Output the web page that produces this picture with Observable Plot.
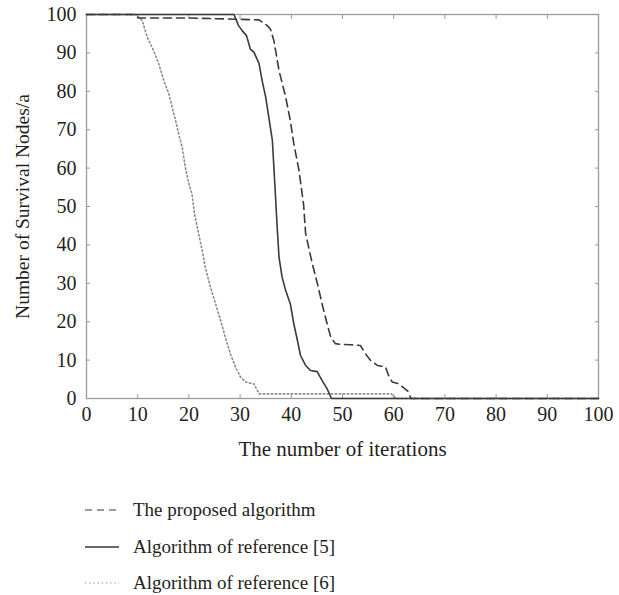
<!DOCTYPE html>
<html>
<head>
<meta charset="utf-8">
<script src="https://cdn.jsdelivr.net/npm/d3@7"></script>
<script src="https://cdn.jsdelivr.net/npm/@observablehq/plot@0.6"></script>
<style>
  html, body { margin: 0; padding: 0; background: #fff; }
  #wrap { position: relative; width: 619px; height: 595px; font-family: "Liberation Serif", "DejaVu Serif", serif; color: #231f20; }
  #legend { position: absolute; left: 0; top: 0; width: 619px; }
  .row { position: absolute; left: 84px; height: 24px; display: flex; align-items: center; font-size: 19px; }
  .row svg { width: 36px; height: 10px; margin-right: 13px; }
</style>
</head>
<body>
<div id="wrap"><div id="chart"></div><div id="legend"></div></div>
<script>
// Series names
const seriesNames = ["The proposed algorithm", "Algorithm of reference [5]", "Algorithm of reference [6]"];
// Tick values
const xTicks = [0, 10, 20, 30, 40, 50, 60, 70, 80, 90, 100];
const yTicks = [0, 10, 20, 30, 40, 50, 60, 70, 80, 90, 100];

// The proposed algorithm (dashed)
const proposedX = [0, 9.2, 10.2, 20, 33.7, 35.3, 35.9, 36.6, 37.6, 38.9, 39.8, 40.5, 41.5, 42.4, 42.8, 44.1, 45.1, 46.0, 47.0, 47.7, 48.6, 49.6, 51.6, 53.5, 54.5, 55.5, 56.8, 58.4, 59.0, 59.7, 61.0, 62.7, 63.4, 100];
const proposedY = [100, 100, 99.1, 99.1, 98.6, 97.1, 96.3, 93.2, 85.4, 78.5, 72.4, 66.3, 59.4, 50.5, 42.9, 35.1, 29.9, 24.7, 19.4, 16.0, 14.3, 14.1, 14.0, 13.8, 11.6, 9.9, 8.6, 8.2, 6.0, 4.3, 3.8, 2.0, 0, 0];

// Algorithm of reference [5] (solid)
const ref5X = [0, 28.8, 29.7, 30.4, 31.25, 32.0, 32.7, 33.7, 34.3, 35.0, 35.6, 36.3, 36.6, 36.9, 37.2, 37.6, 38.2, 38.9, 39.8, 40.5, 41.2, 41.8, 42.8, 43.75, 45.05, 46.0, 47.0, 47.85, 100];
const ref5Y = [100, 100, 97.1, 95.8, 94.5, 91, 90.2, 87.2, 82.8, 78.5, 73.3, 67.2, 60.2, 53.0, 45.5, 36.8, 31.6, 28.1, 24.7, 19.4, 15.1, 11.2, 8.6, 7.3, 7.0, 4.7, 2.5, 0, 0];

// Algorithm of reference [6] (dotted)
const ref6X = [0, 9.5, 10.9, 11.85, 13.1, 14.1, 15.1, 16.1, 16.7, 17.4, 18.0, 18.7, 19.3, 20.0, 20.6, 21.1, 21.9, 22.6, 23.2, 24.2, 25.2, 26.2, 27.1, 28.1, 29.1, 30.1, 31.1, 32.7, 33.7, 59.5, 60.5, 100];
const ref6Y = [100, 100, 98.4, 94.1, 90.6, 87.2, 82.8, 79.3, 75.9, 72.4, 68.9, 65.4, 60.2, 55.9, 53.3, 48.0, 42.9, 38.5, 34.2, 29.0, 24.7, 20.3, 16.0, 11.6, 8.2, 5.5, 4.3, 3.8, 1.2, 1.2, 0, 0];

const toRows = (xs, ys) => xs.map((x, i) => ({x, y: ys[i]}));
const proposed = toRows(proposedX, proposedY);
const ref5 = toRows(ref5X, ref5Y);
const ref6 = toRows(ref6X, ref6Y);

const styles = [
  {stroke: "#3a3a3a", strokeWidth: 1.6, strokeDasharray: "8,5"},
  {stroke: "#3a3a3a", strokeWidth: 1.6},
  {stroke: "#8a8a8a", strokeWidth: 1.6, strokeDasharray: "1.4,2.6"}
];

const axisColor = "#9a9a9a";
const textColor = "#231f20";

const chart = Plot.plot({
  width: 619,
  height: 470,
  marginTop: 14,
  marginLeft: 86,
  marginRight: 21,
  marginBottom: 72,
  style: {fontFamily: "Liberation Serif", fontSize: "20px", color: textColor, background: "white"},
  x: {domain: [0, 100]},
  y: {domain: [0, 100]},
  marks: [
    Plot.frame({stroke: axisColor, strokeWidth: 1.3}),
    // inward tick marks on all four sides
    Plot.axisX(xTicks, {anchor: "bottom", tickSize: -4, text: null, stroke: axisColor, label: null}),
    Plot.axisX(xTicks, {anchor: "top", tickSize: -4, text: null, stroke: axisColor, label: null}),
    Plot.axisY(yTicks, {anchor: "left", tickSize: -4, text: null, stroke: axisColor, label: null}),
    Plot.axisY(yTicks, {anchor: "right", tickSize: -4, text: null, stroke: axisColor, label: null}),
    // tick labels
    Plot.axisX(xTicks, {anchor: "bottom", tickSize: 0, tickPadding: 8, fill: textColor, fontSize: 20, label: null}),
    Plot.axisY(yTicks, {anchor: "left", tickSize: 0, tickPadding: 10, fill: textColor, fontSize: 20, label: null}),
    // axis titles
    Plot.axisX(xTicks, {anchor: "bottom", tickSize: 0, text: null, fill: textColor, fontSize: 21, label: "The number of iterations", labelAnchor: "center", labelArrow: "none", labelOffset: 57}),
    Plot.axisY(yTicks, {anchor: "left", tickSize: 0, text: null, fill: textColor, fontSize: 19.5, label: "Number of Survival Nodes/a", labelAnchor: "center", labelArrow: "none", labelOffset: 71, dy: 10}),
    Plot.line(ref6, {x: "x", y: "y", ...styles[2]}),
    Plot.line(ref5, {x: "x", y: "y", ...styles[1]}),
    Plot.line(proposed, {x: "x", y: "y", ...styles[0]})
  ]
});
document.getElementById("chart").appendChild(chart);

// Legend (below the chart)
const legend = document.getElementById("legend");
const rowTops = [498, 535, 571];
seriesNames.forEach((name, i) => {
  const row = document.createElement("div");
  row.className = "row";
  row.style.top = rowTops[i] + "px";
  const s = styles[i];
  row.innerHTML = `<svg viewBox="0 0 36 10"><line x1="1" x2="35" y1="5" y2="5" stroke="${s.stroke}" stroke-width="${i === 1 ? 1.6 : 1.2}" ${s.strokeDasharray ? `stroke-dasharray="${i === 0 ? '7,5' : '1.2,3'}"` : ""}/></svg><span>${name}</span>`;
  legend.appendChild(row);
});
</script>
</body>
</html>
